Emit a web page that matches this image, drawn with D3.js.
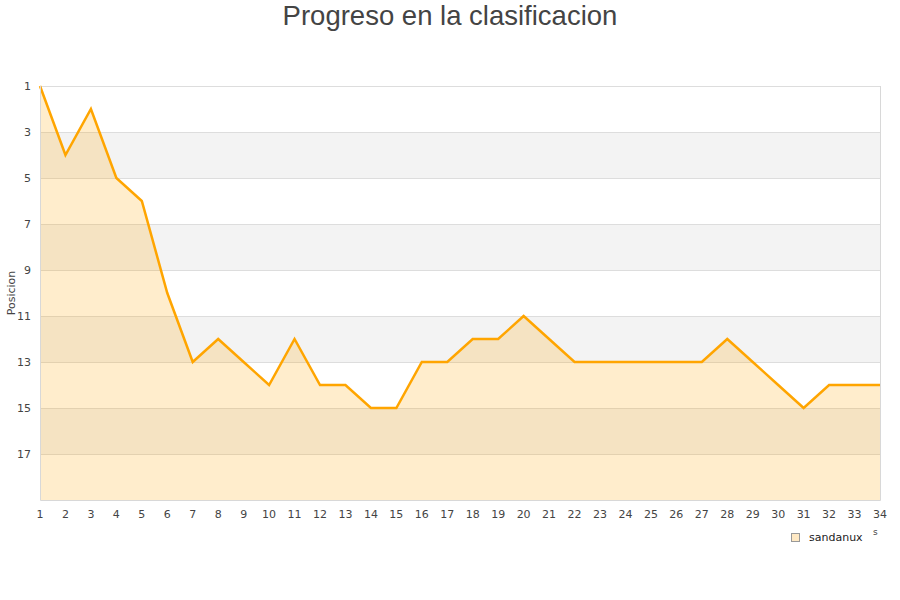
<!DOCTYPE html>
<html><head><meta charset="utf-8">
<script src="https://cdn.jsdelivr.net/npm/d3@7"></script>
<style>body{margin:0;background:#fff}</style>
</head><body>
<svg id="c" width="900" height="600"></svg>
<script>
const jornadas = d3.range(1, 35);
const posiciones = [1,4,2,5,6,10,13,12,13,14,12,14,14,15,15,13,13,12,12,11,12,13,13,13,13,13,13,12,13,14,15,14,14,14];
const yTicks = [1,3,5,7,9,11,13,15,17];
const seriesName = "sandanux";
const title = "Progreso en la clasificacion";
const yLabel = "Posicion";

const svg = d3.select("#c");
const L = 40, R = 880, T = 86, B = 500;
const x = d3.scaleLinear().domain([1, 34]).range([L, R]);
const y = d3.scaleLinear().domain([1, 19]).range([T, B]);

// bands
const bands = [3,7,11,15];
svg.selectAll("rect.band").data(bands).enter().append("rect")
  .attr("x", L).attr("width", R - L)
  .attr("y", d => y(d)).attr("height", d => y(d + 2) - y(d))
  .attr("fill", "#f3f3f3");

// grid
svg.selectAll("line.grid").data(yTicks).enter().append("line")
  .attr("x1", L).attr("x2", R).attr("y1", d => y(d) + 0.5).attr("y2", d => y(d) + 0.5)
  .attr("stroke", "#dddddd");

const data = jornadas.map((j, i) => ({j, p: posiciones[i]}));
svg.append("path").datum(data)
  .attr("d", d3.area().x(d => x(d.j)).y0(y(19)).y1(d => y(d.p)))
  .attr("fill", "orange").attr("fill-opacity", 0.2);
svg.append("path").datum(data)
  .attr("d", d3.line().x(d => x(d.j)).y(d => y(d.p)))
  .attr("fill", "none").attr("stroke", "#FFA500").attr("stroke-width", 2.5);

// frame
svg.append("path")
  .attr("d", `M${L+0.5},${T}V${B+0.5}H${R+0.5}V${T}`)
  .attr("fill", "none").attr("stroke", "#d8d8d8");

// axes labels
svg.selectAll("text.yt").data(yTicks).enter().append("text")
  .attr("x", 31).attr("y", d => y(d)).attr("dy", "0.35em")
  .attr("text-anchor", "end").attr("font-family", "DejaVu Sans").attr("font-size", 11)
  .attr("fill", "#444").text(d => d);
svg.selectAll("text.xt").data(jornadas).enter().append("text")
  .attr("x", d => x(d)).attr("y", 518)
  .attr("text-anchor", "middle").attr("font-family", "DejaVu Sans").attr("font-size", 11)
  .attr("fill", "#444").text(d => d);

svg.append("text").attr("transform", "translate(15,293) rotate(-90)")
  .attr("text-anchor", "middle").attr("font-family", "DejaVu Sans").attr("font-size", 11)
  .attr("fill", "#444").text(yLabel);

svg.append("text").attr("x", 450).attr("y", 25).attr("text-anchor", "middle")
  .attr("font-family", "Liberation Sans, Arial").attr("font-size", 27.5).attr("fill", "#444").text(title);

// legend
svg.append("rect").attr("x", 791.5).attr("y", 533.5).attr("width", 8).attr("height", 8)
  .attr("fill", "#ffe9c4").attr("stroke", "#999");
svg.append("text").attr("x", 809).attr("y", 541).attr("font-family", "DejaVu Sans").attr("font-size", 11)
  .attr("fill", "#222").text(seriesName);
svg.append("text").attr("x", 873).attr("y", 535).attr("font-family", "DejaVu Sans").attr("font-size", 9)
  .attr("fill", "#444").text("s");
</script>
</body></html>
